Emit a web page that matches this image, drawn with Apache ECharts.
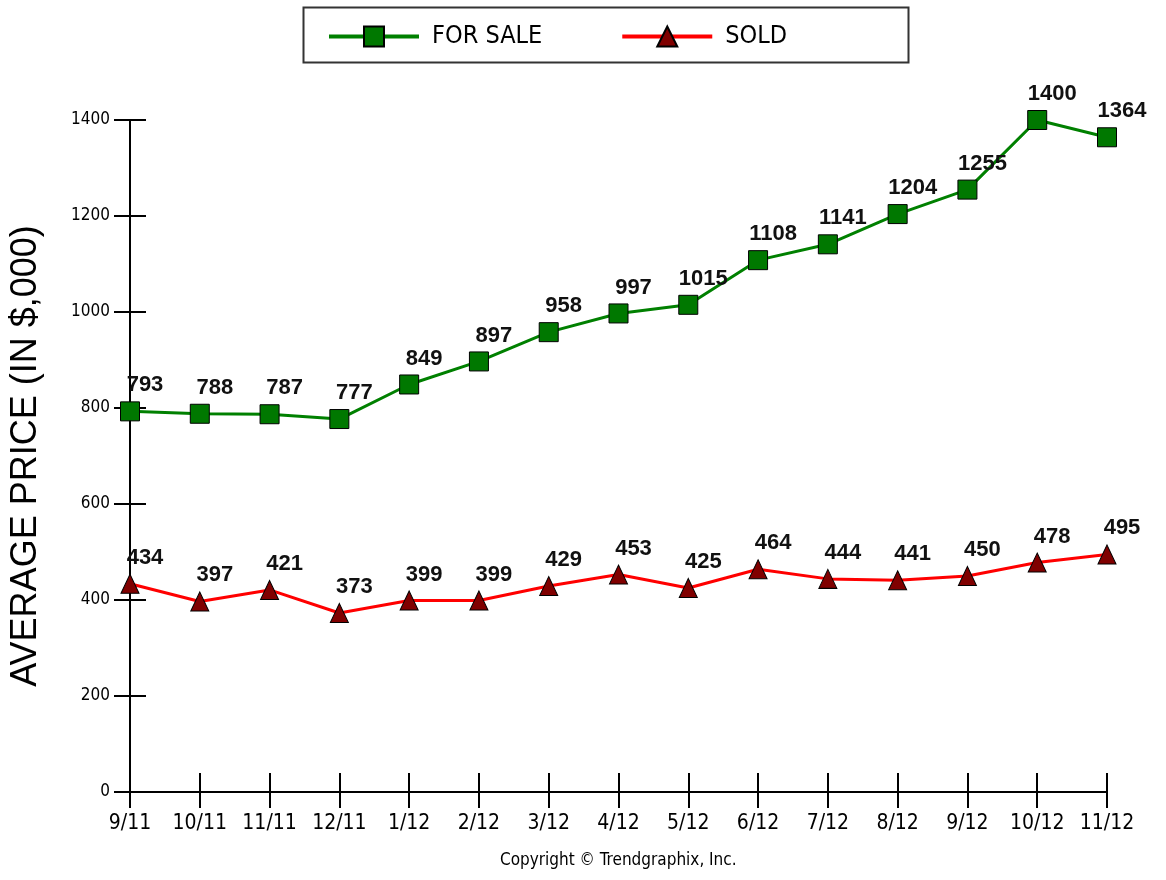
<!DOCTYPE html>
<html>
<head>
<meta charset="utf-8">
<script src="https://cdn.jsdelivr.net/npm/echarts@6/dist/echarts.min.js"></script>
<style>
html,body{margin:0;padding:0;background:#fff;}
#chart{width:1166px;height:880px;}
</style>
</head>
<body>
<div id="chart"></div>
<script>
const categories = ['9/11','10/11','11/11','12/11','1/12','2/12','3/12','4/12','5/12','6/12','7/12','8/12','9/12','10/12','11/12'];
const forSale = [793, 788, 787, 777, 849, 897, 958, 997, 1015, 1108, 1141, 1204, 1255, 1400, 1364];
const sold = [434, 397, 421, 373, 399, 399, 429, 453, 425, 464, 444, 441, 450, 478, 495];
const seriesNames = ['FOR SALE', 'SOLD'];
const yTitle = 'AVERAGE PRICE (IN $,000)';
const copyright = 'Copyright \u00A9 Trendgraphix, Inc.';

const narrow = "'Liberation Sans Narrow', 'DejaVu Sans Condensed', sans-serif";
const regular = "'Liberation Sans', Arial, sans-serif";

const chart = echarts.init(document.getElementById('chart'));
const labelStyle = {
  show: true, position: 'top', distance: 5, offset: [15, 0],
  fontFamily: regular, fontWeight: 'bold', fontSize: 22, color: '#111'
};
chart.setOption({
  animation: false,
  backgroundColor: '#fff',
  grid: { left: 129, right: 59, top: 120, bottom: 88, containLabel: false },
  legend: {
    left: 322, top: 19,
    itemWidth: 90, itemHeight: 25, itemGap: 78,
    lineStyle: { width: 4 },
    textStyle: { fontFamily: narrow, fontSize: 25, color: '#000', padding: [0, 0, 0, 8] },
    data: seriesNames
  },
  graphic: [
    { type: 'rect', left: 301, top: 5, shape: { width: 605, height: 55 },
      style: { fill: 'none', stroke: '#333', lineWidth: 2 }, silent: true },
    { type: 'text', left: 500, top: 852,
      style: { text: copyright, fontFamily: narrow, fontSize: 17, fill: '#000' } }
  ],
  xAxis: [
    { type: 'category', data: categories, boundaryGap: false,
      axisLine: { show: true, lineStyle: { color: '#000', width: 2 } },
      axisTick: { show: true, length: 16, lineStyle: { color: '#000', width: 2 } },
      axisLabel: { fontFamily: narrow, fontSize: 21, color: '#000', margin: 21, interval: 0 },
      splitLine: { show: false } },
    { type: 'category', data: categories, boundaryGap: false, position: 'bottom',
      axisLine: { show: false },
      axisTick: { show: true, inside: true, length: 19, lineStyle: { color: '#000', width: 2 } },
      axisLabel: { show: false }, splitLine: { show: false } }
  ],
  yAxis: [
    { type: 'value', min: 0, max: 1400, interval: 200,
      name: yTitle, nameLocation: 'middle', nameRotate: 90, nameGap: 86,
      nameTextStyle: { fontFamily: regular, fontSize: 36, color: '#000' },
      axisLine: { show: true, lineStyle: { color: '#000', width: 2 } },
      axisTick: { show: true, length: 16, lineStyle: { color: '#000', width: 2 } },
      axisLabel: { fontFamily: narrow, fontSize: 17, color: '#000', margin: 20,
        formatter: function (v) { return String(v); } },
      splitLine: { show: false } },
    { type: 'value', min: 0, max: 1400, interval: 200, position: 'left',
      axisLine: { show: false },
      axisTick: { show: true, inside: true, length: 16, lineStyle: { color: '#000', width: 2 } },
      axisLabel: { show: false }, splitLine: { show: false } }
  ],
  series: [
    { name: seriesNames[0], type: 'line', data: forSale, xAxisIndex: 0, yAxisIndex: 0,
      symbol: 'rect', symbolSize: 19,
      lineStyle: { color: '#008000', width: 3 },
      itemStyle: { color: '#007800', borderColor: '#000', borderWidth: 1 },
      label: labelStyle, z: 3 },
    { name: seriesNames[1], type: 'line', data: sold, xAxisIndex: 0, yAxisIndex: 0,
      symbol: 'triangle', symbolSize: [18, 19],
      lineStyle: { color: '#ff0000', width: 3 },
      itemStyle: { color: '#800000', borderColor: '#000', borderWidth: 1 },
      label: labelStyle, z: 3 }
  ]
});
</script>
</body>
</html>
